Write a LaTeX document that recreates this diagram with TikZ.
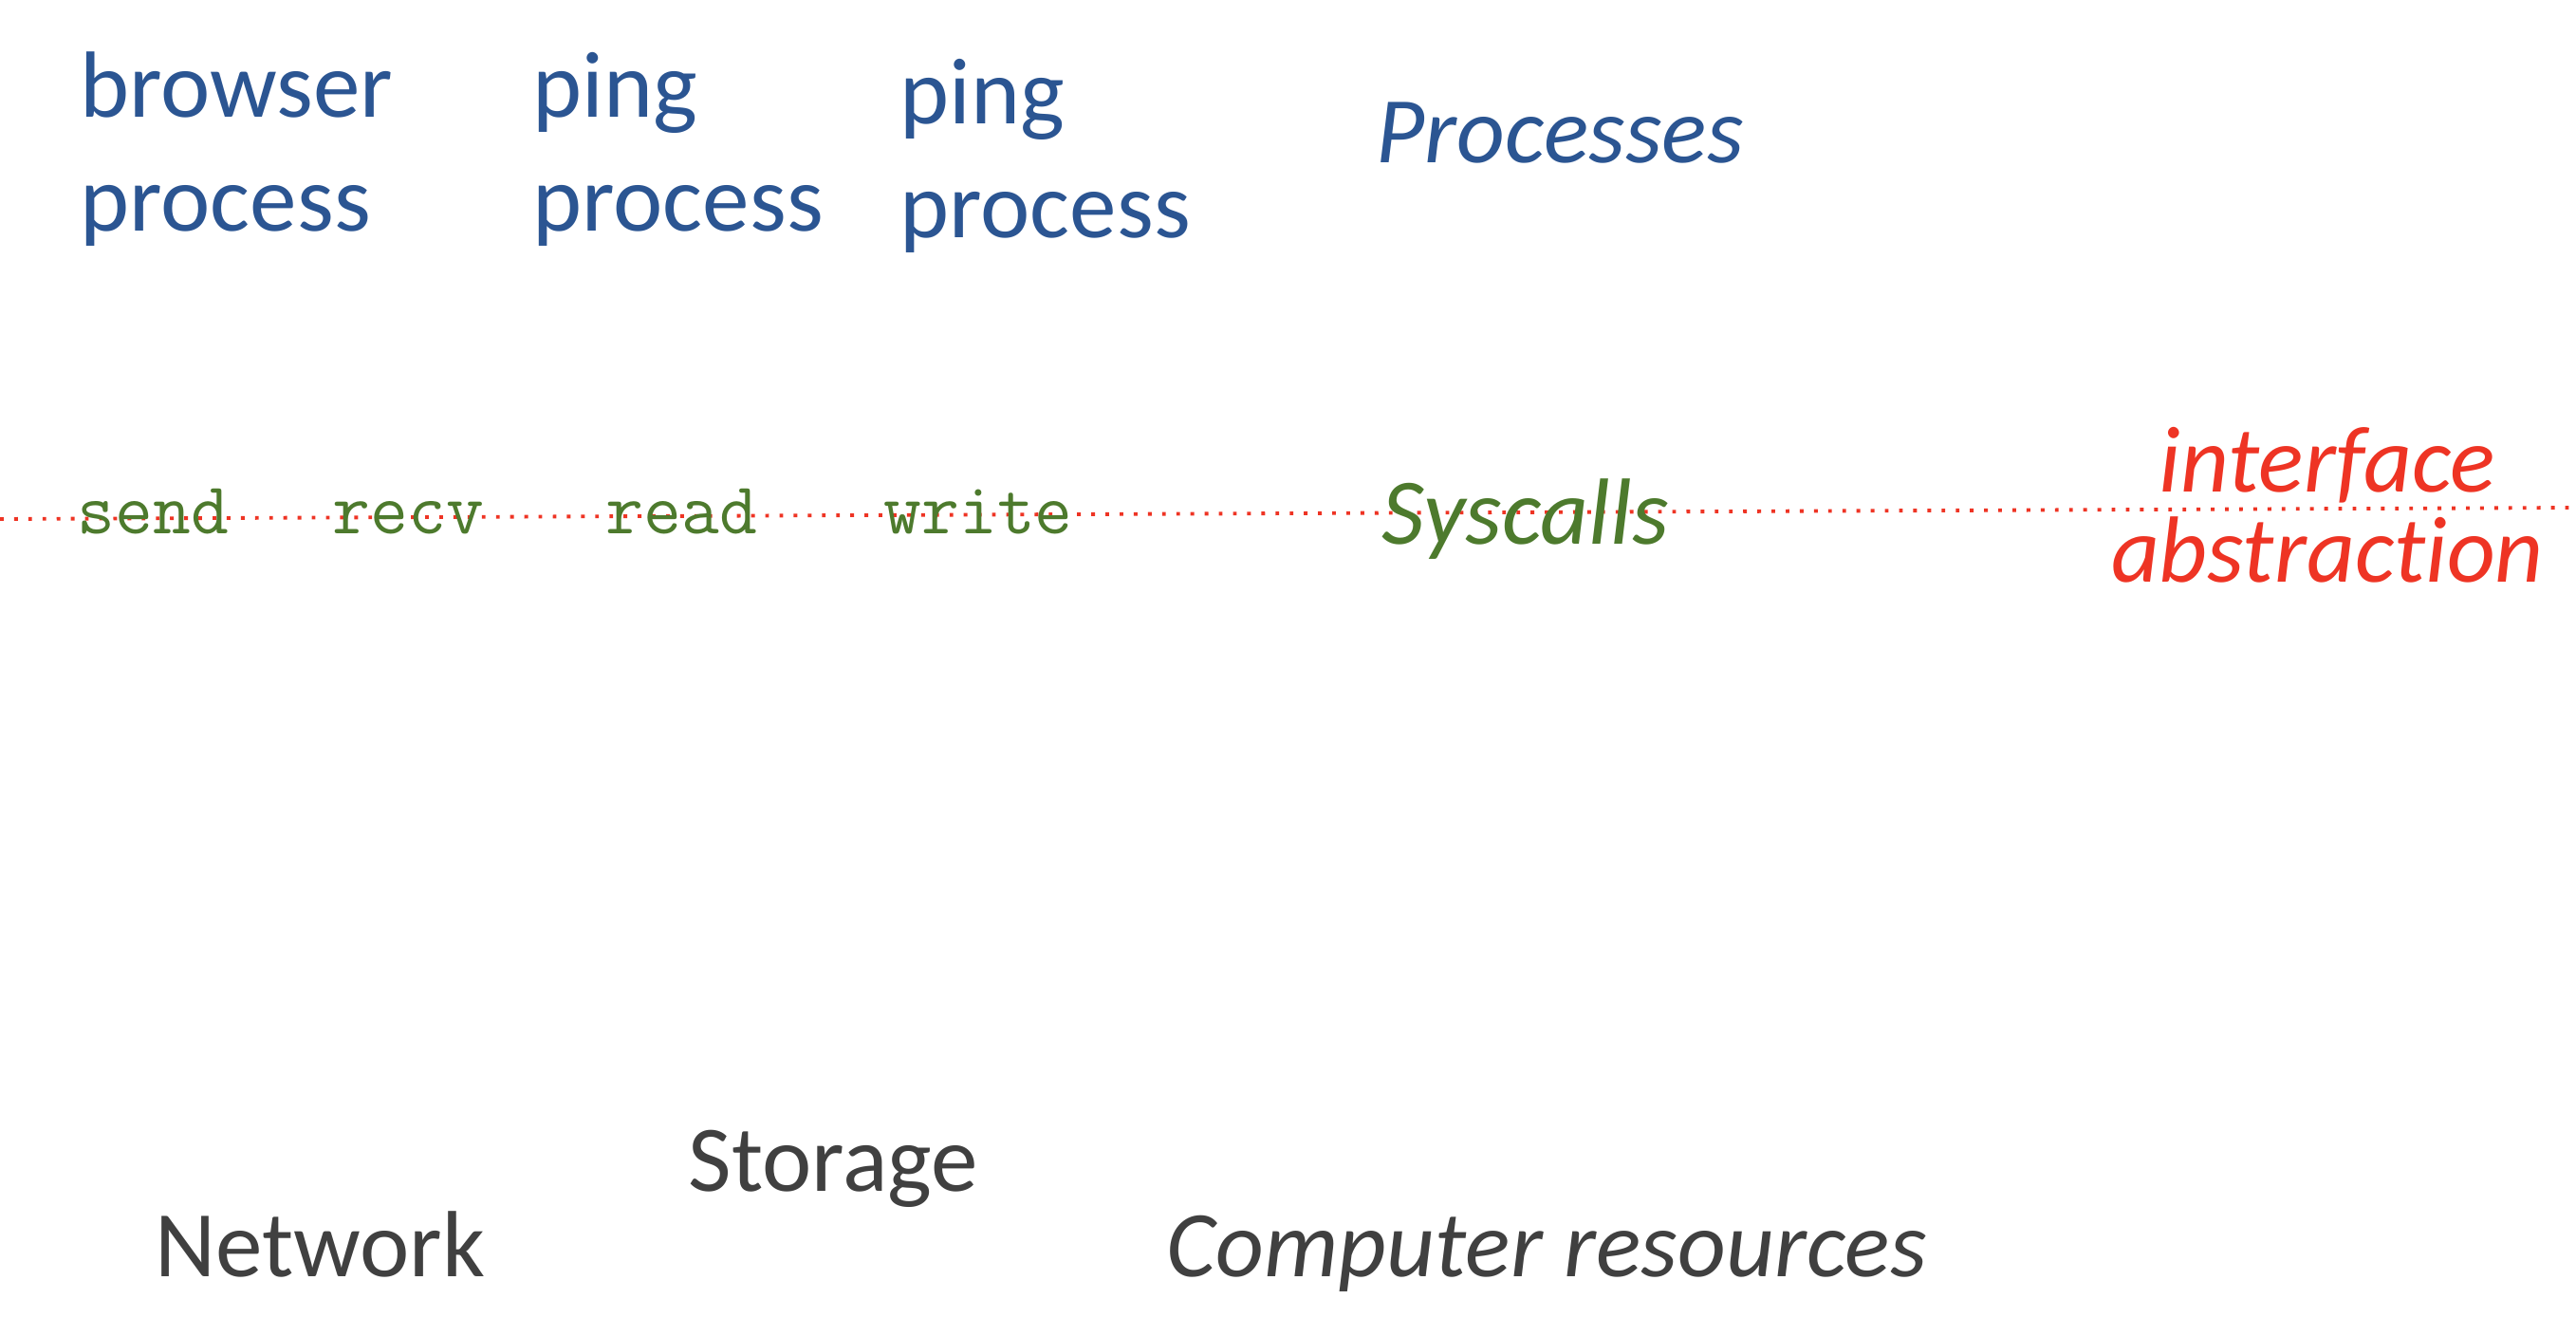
\documentclass[tikz,border=0pt]{standalone}
\usepackage{fontspec}
\setmainfont{Carlito}[Ligatures=NoCommon]
\definecolor{procblue}{HTML}{2B5592}
\definecolor{callgreen}{HTML}{4D7A2D}
\definecolor{ifacered}{HTML}{EE3424}
\definecolor{resgray}{HTML}{404040}
\let\ab\textit % Abstraction layer name.
\newcommand{\call}[1]{\texttt{#1}}

\begin{document}
\begin{tikzpicture}[
  label/.style={inner sep=0pt, anchor=base west, align=left,
    font=\fontsize{28.2}{34.1}\selectfont},
  proc/.style={label, text=procblue},
  res/.style={label, text=resgray},
  sys/.style={inner sep=0pt, anchor=base west, text=callgreen,
    font=\fontsize{22}{26}\selectfont}
]
\useasboundingbox (0,0) rectangle (27.15,-14.08);

% the interface line
\coordinate (lineL) at (0,-5.47);
\coordinate (lineR) at (27.15,-5.35);
\draw[ifacered, line width=1.1pt, dash pattern=on 1.1pt off 3.15pt] (lineL) -- (lineR);

% two-line nodes sit on their last baseline
\node[proc] (browser) at (0.84,-2.43) {browser\\process};
\node[proc] (ping1) at (5.61,-2.43) {ping\\process};
\node[proc] (ping2) at (9.48,-2.50) {ping\\process};
\node[proc] (processes) at (14.50,-1.71) {\ab{Processes}};

\node[sys] (send) at (0.81,-5.62) {\call{send}};
\node[sys] (recv) at (3.50,-5.62) {\call{recv}};
\node[sys] (read) at (6.38,-5.62) {\call{read}};
\node[sys] (write) at (9.31,-5.62) {\call{write}};
\node[label, text=callgreen] (syscalls) at (14.56,-5.73) {\ab{Syscalls}};

\node[inner sep=0pt, anchor=base, align=center, text=ifacered,
  font=\fontsize{28.2}{27}\selectfont] (iface) at (24.53,-6.13)
  {\ab{interface}\\\ab{abstraction}};

\node[res] (storage) at (7.25,-12.55) {Storage};
\node[res] (network) at (1.63,-13.45) {Network};
\node[res] (resources) at (12.29,-13.45) {\ab{Computer resources}};
\end{tikzpicture}
\end{document}
